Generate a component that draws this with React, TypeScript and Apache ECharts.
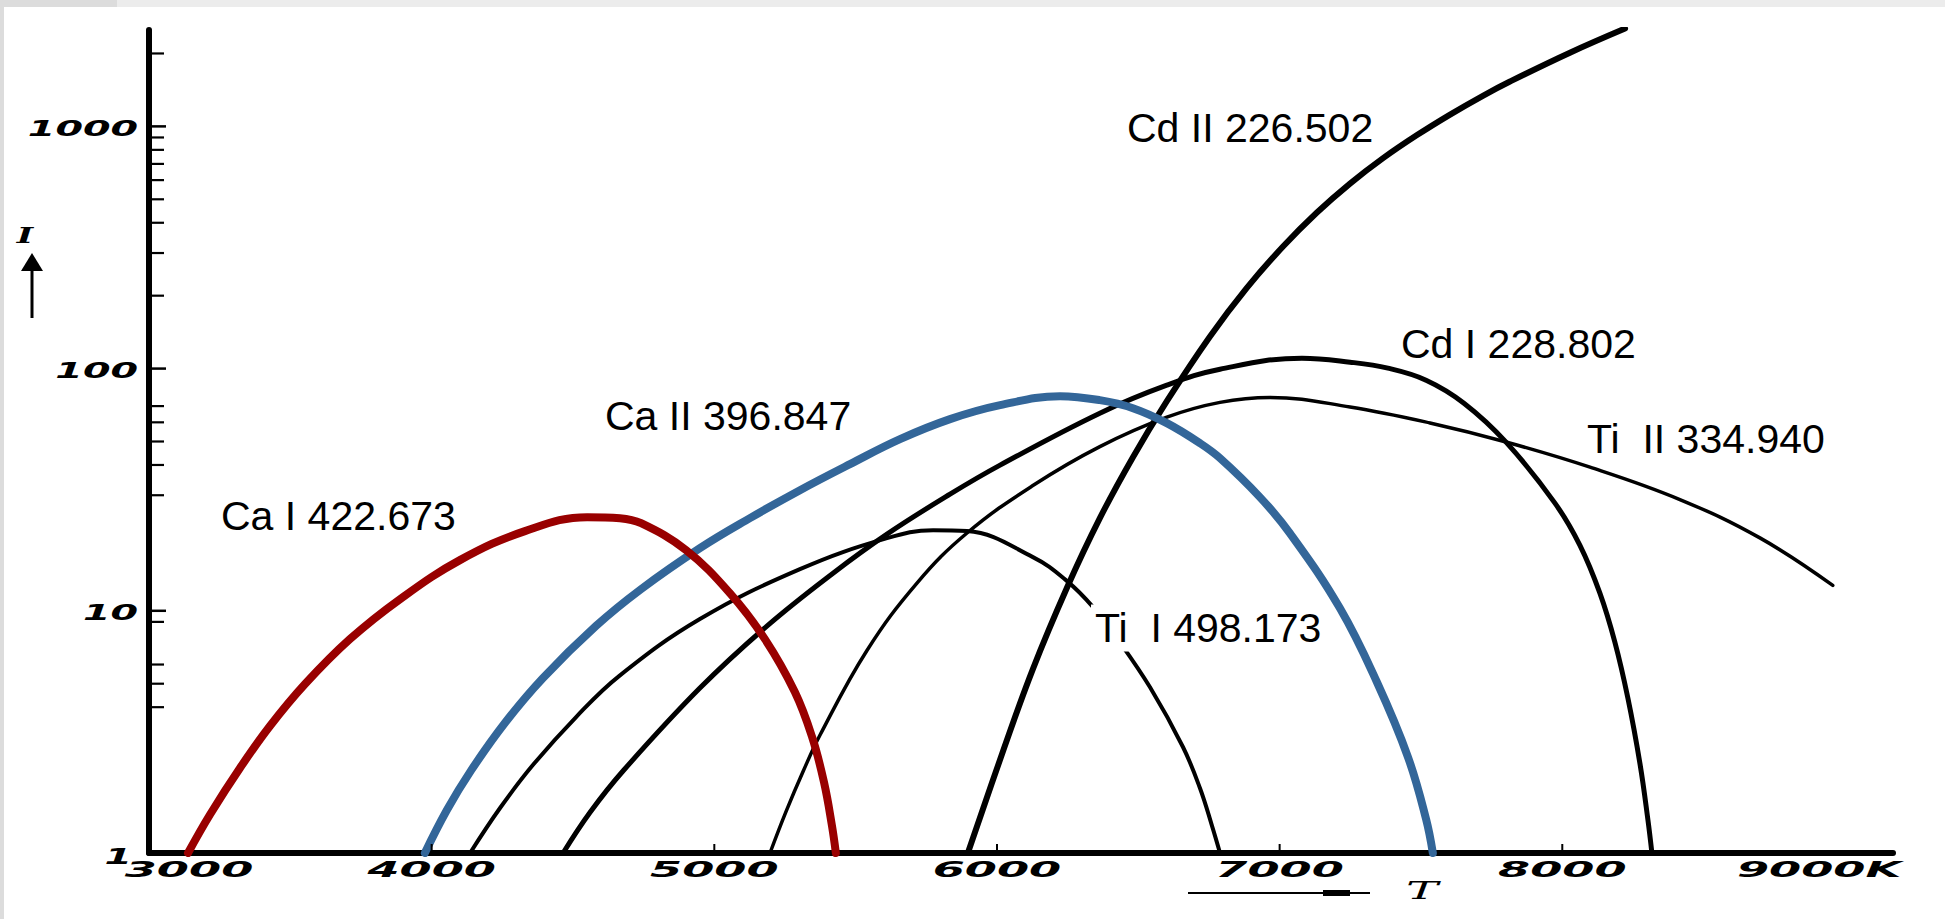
import React, { useEffect, useRef } from 'react';
import * as echarts from 'echarts';

const X_MIN = 3000;
const X_MAX = 9170;
const Y_MIN = 1;
const Y_MAX = 2500;

const xTickValues = [3000, 4000, 5000, 6000, 7000, 8000, 9000];
const xTickLabels = ['3000', '4000', '5000', '6000', '7000', '8000', '9000K'];
const xSmallTicks = [4000, 5000, 6000, 7000, 8000];
const yTickValues = [1, 10, 100, 1000];
const yTickLabels = ['1', '10', '100', '1000'];
const yMinorTicks = [4, 5, 6, 9, 30, 40, 50, 60, 70, 200, 300, 400, 500, 600, 700, 800, 900, 2000];

// [temperature K, relative intensity]
const caI422 = [
  [3138, 1], [3216, 1.442], [3322, 2.243], [3428, 3.343], [3552, 4.983], [3711, 7.642], [3888, 11.17],
  [4100, 16.19], [4330, 21.33], [4550, 24.36], [4666, 24.13], [4741, 23.0], [4900, 17.8], [5055, 11.83],
  [5179, 7.64], [5285, 4.62], [5346, 3.01], [5388, 1.96], [5416, 1.3], [5430, 1],
];
const caII396 = [
  [3976, 1], [4054, 1.504], [4139, 2.188], [4259, 3.44], [4394, 5.277], [4581, 8.648], [4741, 12.29],
  [4949, 18.14], [5126, 24.13], [5303, 31.48], [5480, 40.32], [5657, 51.12], [5834, 61.83], [6011, 70.62],
  [6223, 76.91], [6364, 74.06], [6481, 68.64], [6601, 59.53], [6718, 49.21], [6789, 42.68], [6930, 29.47],
  [7036, 20.93], [7213, 10.26], [7344, 5.08], [7454, 2.49], [7518, 1.381], [7542, 1],
];
const cdII226 = [
  [5897, 1], [6021, 2.624], [6127, 5.745], [6248, 12.48], [6364, 24.13], [6481, 43.09], [6601, 73.35],
  [6753, 135.4], [6884, 215.3], [7012, 319.1], [7132, 440.9], [7249, 580.6], [7366, 739.3], [7486, 920.6],
  [7603, 1119], [7719, 1338], [7815, 1532], [8027, 2015], [8222, 2535],
];
const cdI228 = [
  [4465, 1], [4560, 1.47], [4680, 2.201], [4949, 4.797], [5186, 8.648], [5420, 14.3], [5611, 20.73],
  [5834, 30.31], [6011, 39.94], [6364, 65.45], [6601, 85.41], [6789, 99.43], [7079, 110.4], [7249, 106.3],
  [7383, 100.4], [7518, 89.56], [7652, 71.97], [7801, 49.68], [7974, 27.83], [8062, 18.67], [8133, 11.83],
  [8186, 7.427], [8232, 4.362], [8275, 2.33], [8303, 1.368], [8317, 1],
];
const tiI498 = [
  [4136, 1], [4242, 1.534], [4358, 2.307], [4511, 3.642], [4663, 5.377], [4949, 9.243], [5303, 14.86],
  [5611, 19.95], [5774, 21.53], [5894, 21.33], [6127, 16.66], [6248, 13.26], [6340, 10.36], [6424, 7.716],
  [6541, 4.843], [6658, 2.739], [6718, 1.855], [6761, 1.292], [6789, 1],
];
const tiII334 = [
  [5197, 1], [5254, 1.485], [5314, 2.169], [5374, 3.069], [5540, 6.86], [5717, 13.02], [5894, 20.95],
  [6127, 32.89], [6364, 47.62], [6601, 63.02], [6789, 72.52], [6966, 76.04], [7249, 69.42], [7532, 59.64],
  [7801, 49.78], [8098, 39.18], [8416, 28.8], [8699, 20.0], [8957, 12.73],
];

const curveNames = ['Cd II 226.502', 'Cd I 228.802', 'Ti  II 334.940', 'Ca II 396.847', 'Ca I 422.673', 'Ti  I 498.173'];

const lineSeries = (name: string, data: number[][], color: string, width: number, z: number) => ({
  name,
  type: 'line',
  data,
  showSymbol: false,
  symbol: 'none',
  smooth: 0.4,
  silent: true,
  z,
  lineStyle: { color, width, cap: 'round', join: 'round' },
});

const labelFont = { fontSize: 41, fontFamily: '"Liberation Sans", Arial, sans-serif', fill: '#000' };
const axisFont = { fontSize: 22, fontStyle: 'italic', fontWeight: 'bold', fontFamily: '"DejaVu Sans"', fill: '#000' };

export default function App() {
  const ref = useRef<HTMLDivElement>(null);
  useEffect(() => {
    const chart = echarts.init(ref.current as HTMLDivElement, null, { renderer: 'svg' });
    const option: any = {
      animation: false,
      backgroundColor: '#ffffff',
      grid: { left: 149, right: 52, top: 30, bottom: 66, containLabel: false },
      xAxis: {
        type: 'value', min: X_MIN, max: X_MAX, interval: 1000,
        axisLine: { show: true, onZero: false, lineStyle: { color: '#000', width: 6 } },
        axisTick: { show: false }, axisLabel: { show: false }, splitLine: { show: false },
      },
      yAxis: {
        type: 'log', logBase: 10, min: Y_MIN, max: Y_MAX,
        axisLine: { show: true, onZero: false, lineStyle: { color: '#000', width: 6 } },
        axisTick: { show: false }, axisLabel: { show: false }, splitLine: { show: false },
      },
      series: [
        lineSeries(curveNames[0], cdII226, '#000', 6, 2),
        lineSeries(curveNames[1], cdI228, '#000', 5, 2),
        lineSeries(curveNames[2], tiII334, '#000', 3.5, 2),
        lineSeries(curveNames[5], tiI498, '#000', 4, 2),
        lineSeries(curveNames[3], caII396, '#336699', 8, 3),
        lineSeries(curveNames[4], caI422, '#990000', 8, 4),
        {
          type: 'custom', clip: false, silent: true, z: 6,
          data: yTickValues.map((v) => [X_MIN, v]),
          renderItem: (params: any, api: any) => {
            const p = api.coord([api.value(0), api.value(1)]);
            return { type: 'line', shape: { x1: p[0], y1: p[1], x2: p[0] + 17, y2: p[1] }, style: { stroke: '#000', lineWidth: 2.5 } };
          },
        },
        {
          type: 'custom', clip: false, silent: true, z: 6,
          data: yMinorTicks.map((v) => [X_MIN, v]),
          renderItem: (params: any, api: any) => {
            const p = api.coord([api.value(0), api.value(1)]);
            return { type: 'line', shape: { x1: p[0], y1: p[1], x2: p[0] + 15, y2: p[1] }, style: { stroke: '#000', lineWidth: 2.2 } };
          },
        },
        {
          type: 'custom', clip: false, silent: true, z: 6,
          data: xSmallTicks.map((v) => [v, Y_MIN]),
          renderItem: (params: any, api: any) => {
            const p = api.coord([api.value(0), api.value(1)]);
            return { type: 'line', shape: { x1: p[0], y1: p[1], x2: p[0], y2: p[1] - 9 }, style: { stroke: '#000', lineWidth: 2 } };
          },
        },
        {
          type: 'custom', clip: false, silent: true, z: 6,
          data: xTickValues.map((v) => [v, Y_MIN]),
          renderItem: (params: any, api: any) => {
            const i = params.dataIndex;
            const p = api.coord([api.value(0), api.value(1)]);
            const last = i === xTickValues.length - 1;
            const dx = i === 0 ? 40 : last ? -108 : 0;
            return {
              type: 'text', x: p[0] + dx, y: p[1] + 16, scaleX: 2.1,
              style: { ...axisFont, text: xTickLabels[i], align: last ? 'left' : 'center', verticalAlign: 'middle' },
            };
          },
        },
        {
          type: 'custom', clip: false, silent: true, z: 6,
          data: yTickValues.map((v) => [X_MIN, v]),
          renderItem: (params: any, api: any) => {
            const i = params.dataIndex;
            const p = api.coord([api.value(0), api.value(1)]);
            const dx = i === 0 ? -17 : -11;
            const dy = i === 0 ? 3 : 2;
            return {
              type: 'text', x: p[0] + dx, y: p[1] + dy, scaleX: 1.8,
              style: { ...axisFont, text: yTickLabels[i], align: 'right', verticalAlign: 'middle' },
            };
          },
        },
      ],
      graphic: [
        { type: 'rect', z: 1, shape: { x: 0, y: 0, width: 1945, height: 7 }, style: { fill: '#ececec' } },
        { type: 'rect', z: 1, shape: { x: 0, y: 0, width: 117, height: 7 }, style: { fill: '#dcdcdc' } },
        { type: 'rect', z: 1, shape: { x: 0, y: 0, width: 4, height: 919 }, style: { fill: '#dcdcdc' } },
        {
          type: 'text', z: 100, x: 25, y: 235, scaleX: 1.6,
          style: { text: 'I', fontSize: 22, fontStyle: 'italic', fontWeight: 'bold', fontFamily: '"DejaVu Serif"', fill: '#000', align: 'center', verticalAlign: 'middle' },
        },
        { type: 'line', z: 100, shape: { x1: 32, y1: 318, x2: 32, y2: 266 }, style: { stroke: '#000', lineWidth: 3 } },
        { type: 'polygon', z: 100, shape: { points: [[21, 271], [43, 271], [32, 253]] }, style: { fill: '#000' } },
        { type: 'line', z: 100, shape: { x1: 1188, y1: 893, x2: 1370, y2: 893 }, style: { stroke: '#000', lineWidth: 2 } },
        { type: 'rect', z: 100, shape: { x: 1323, y: 890, width: 27, height: 6 }, style: { fill: '#000' } },
        {
          type: 'text', z: 100, x: 1422, y: 891, scaleX: 2,
          style: { text: 'T', fontSize: 24, fontStyle: 'italic', fontFamily: '"DejaVu Serif"', fill: '#000', align: 'center', verticalAlign: 'middle' },
        },
        { type: 'text', z: 100, x: 1127, y: 128, style: { ...labelFont, text: curveNames[0], align: 'left', verticalAlign: 'middle' } },
        { type: 'text', z: 100, x: 1401, y: 344, style: { ...labelFont, text: curveNames[1], align: 'left', verticalAlign: 'middle' } },
        { type: 'text', z: 100, x: 1587, y: 439, style: { ...labelFont, text: curveNames[2], align: 'left', verticalAlign: 'middle' } },
        { type: 'text', z: 100, x: 605, y: 416, style: { ...labelFont, text: curveNames[3], align: 'left', verticalAlign: 'middle' } },
        { type: 'text', z: 100, x: 221, y: 516, style: { ...labelFont, text: curveNames[4], align: 'left', verticalAlign: 'middle' } },
        {
          type: 'text', z: 100, x: 1091, y: 628,
          style: { ...labelFont, text: curveNames[5], align: 'left', verticalAlign: 'middle', backgroundColor: '#fff', padding: [3, 2, 3, 4] },
        },
      ],
    };
    chart.setOption(option);
    return () => chart.dispose();
  }, []);
  return (
    <div
      ref={ref}
      style={{ position: 'fixed', left: 0, top: 0, width: 1945, height: 919, background: '#fff' }}
    />
  );
}
